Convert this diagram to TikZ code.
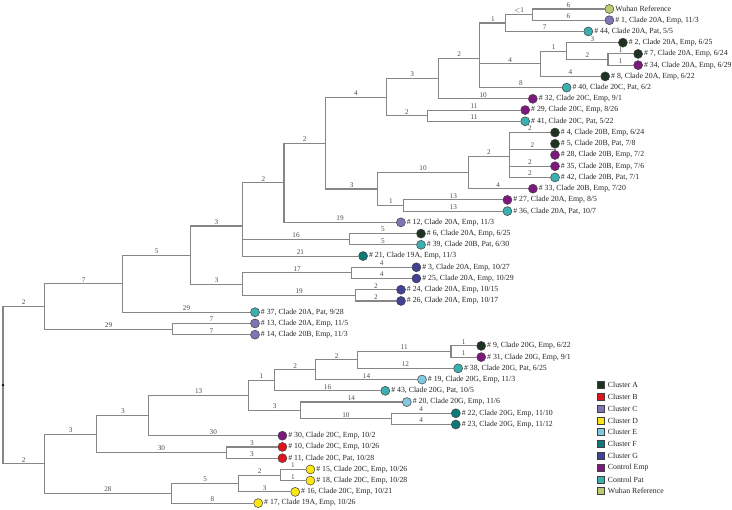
\documentclass[tikz,border=0pt]{standalone}
\usepackage{fontspec}
\setmainfont{Liberation Serif}
\usetikzlibrary{positioning}
\definecolor{clA}{RGB}{30,52,32}
\definecolor{clB}{RGB}{225,20,30}
\definecolor{clC}{RGB}{125,118,180}
\definecolor{clD}{RGB}{250,230,20}
\definecolor{clE}{RGB}{130,200,225}
\definecolor{clF}{RGB}{15,120,120}
\definecolor{clG}{RGB}{65,65,150}
\definecolor{ctEmp}{RGB}{125,25,125}
\definecolor{ctPat}{RGB}{60,175,175}
\definecolor{wuhan}{RGB}{185,205,110}
\begin{document}
\begin{tikzpicture}[x=1pt,y=-1pt,
  br/.style={draw=gray!95,line width=1.1pt},
  tip/.style={circle,draw=black!75,line width=0.5pt,minimum size=9pt,inner sep=0pt},
  lab/.style={font=\fontsize{7.8}{9}\selectfont,text=black!85,inner sep=1pt},
  key/.style={draw=black!75,line width=0.5pt,minimum size=7pt,inner sep=0pt},
  keylab/.style={font=\fontsize{7.8}{9}\selectfont,text=black!85,inner sep=1pt},
  len/.style={font=\fontsize{7.2}{8}\selectfont,text=black!70,inner sep=1pt,above}]
\fill[white] (0,0) rectangle (732,510);
\useasboundingbox (0,0) rectangle (732,510);
% internal nodes
\coordinate (root) at (3,385.1);
\coordinate (A) at (44.4,306.4);
\coordinate (B) at (122.8,283.7);
\coordinate (C) at (190.4,255.1);
\coordinate (D) at (242.6,226.0);
\coordinate (E) at (284.0,182.7);
\coordinate (F) at (325.5,143.1);
\coordinate (G) at (386.1,97.1);
\coordinate (H) at (438.4,78.5);
\coordinate (I) at (479.8,58.1);
\coordinate (J) at (505.9,23.0);
\coordinate (K) at (532.1,14.6);
\coordinate (L) at (540.5,63.8);
\coordinate (M) at (566.6,51.1);
\coordinate (N) at (608.0,59.5);
\coordinate (O) at (427.5,115.7);
\coordinate (P) at (377.8,189.0);
\coordinate (Q) at (468.2,172.6);
\coordinate (R) at (509.6,156.4);
\coordinate (S) at (555.0,149.4);
\coordinate (T) at (403.9,205.5);
\coordinate (U) at (349.4,239.2);
\coordinate (V) at (242.7,284.1);
\coordinate (W) at (351.7,272.9);
\coordinate (X) at (355.6,295.4);
\coordinate (Y) at (172.6,329.1);
\coordinate (Z) at (44.4,463.7);
\coordinate (AA) at (96.7,434.1);
\coordinate (AB) at (148.9,415.6);
\coordinate (AC) at (248.4,395.4);
\coordinate (AD) at (274.5,380.3);
\coordinate (AE) at (315.9,369.8);
\coordinate (AF) at (357.4,359.9);
\coordinate (AG) at (451.0,351.5);
\coordinate (AH) at (300.7,410.5);
\coordinate (AI) at (391.1,418.9);
\coordinate (AJ) at (226.2,452.6);
\coordinate (AK) at (171.4,493.3);
\coordinate (AL) at (238.9,483.5);
\coordinate (AM) at (280.3,475.1);
% tips
\foreach \n/\x/\i/\col/\txt in {
  W/605.4/0/wuhan/{Wuhan Reference},
  1/605.4/1/clC/{\# 1, Clade 20A, Emp, 11/3},
  44/584.3/2/ctPat/{\# 44, Clade 20A, Pat, 5/5},
  2/618.9/3/clA/{\# 2, Clade 20A, Emp, 6/25},
  7/634.1/4/clA/{\# 7, Clade 20A, Emp, 6/24},
  34/634.1/5/ctEmp/{\# 34, Clade 20A, Emp, 6/29},
  8/601.2/6/clA/{\# 8, Clade 20A, Emp, 6/22},
  40/562.6/7/ctPat/{\# 40, Clade 20C, Pat, 6/2},
  32/528.8/8/ctEmp/{\# 32, Clade 20C, Emp, 9/1},
  29/521.2/9/ctEmp/{\# 29, Clade 20C, Emp, 8/26},
  41/521.2/10/ctPat/{\# 41, Clade 20C, Pat, 5/22},
  4/551.0/11/clA/{\# 4, Clade 20B, Emp, 6/24},
  5/551.0/12/clA/{\# 5, Clade 20B, Pat, 7/8},
  28/551.0/13/ctEmp/{\# 28, Clade 20B, Emp, 7/2},
  35/551.0/14/ctEmp/{\# 35, Clade 20B, Emp, 7/6},
  42/551.0/15/ctPat/{\# 42, Clade 20B, Pat, 7/1},
  33/528.9/16/ctEmp/{\# 33, Clade 20B, Emp, 7/20},
  27/503.4/17/ctEmp/{\# 27, Clade 20A, Emp, 8/5},
  36/503.4/18/ctPat/{\# 36, Clade 20A, Pat, 10/7},
  12/396.9/19/clC/{\# 12, Clade 20A, Emp, 11/3},
  6/417.0/20/clA/{\# 6, Clade 20A, Emp, 6/25},
  39/417.0/21/ctPat/{\# 39, Clade 20B, Pat, 6/30},
  21/359.1/22/clF/{\# 21, Clade 19A, Emp, 11/3},
  3/412.4/23/clG/{\# 3, Clade 20A, Emp, 10/27},
  25/412.4/24/clG/{\# 25, Clade 20A, Emp, 10/29},
  24/397.0/25/clG/{\# 24, Clade 20A, Emp, 10/15},
  26/397.0/26/clG/{\# 26, Clade 20A, Emp, 10/17},
  37/251.0/27/ctPat/{\# 37, Clade 20A, Pat, 9/28},
  13/251.0/28/clC/{\# 13, Clade 20A, Emp, 11/5},
  14/251.0/29/clC/{\# 14, Clade 20B, Emp, 11/3},
  9/477.2/30/clA/{\# 9, Clade 20G, Emp, 6/22},
  31/477.2/31/ctEmp/{\# 31, Clade 20G, Emp, 9/1},
  38/454.1/32/ctPat/{\# 38, Clade 20G, Pat, 6/25},
  19/418.0/33/clE/{\# 19, Clade 20G, Emp, 11/3},
  43/381.3/34/ctPat/{\# 43, Clade 20G, Pat, 10/5},
  20/402.8/35/clE/{\# 20, Clade 20G, Emp, 11/6},
  22/451.8/36/clF/{\# 22, Clade 20G, Emp, 11/10},
  23/451.8/37/clF/{\# 23, Clade 20G, Emp, 11/12},
  30/278.4/38/ctEmp/{\# 30, Clade 20C, Emp, 10/2},
  10/278.4/39/clB/{\# 10, Clade 20C, Emp, 10/26},
  11/278.4/40/clB/{\# 11, Clade 20C, Pat, 10/28},
  15/306.4/41/clD/{\# 15, Clade 20C, Emp, 10/26},
  18/306.4/42/clD/{\# 18, Clade 20C, Emp, 10/28},
  16/291.2/43/clD/{\# 16, Clade 20C, Emp, 10/21},
  17/254.2/44/clD/{\# 17, Clade 19A, Emp, 10/26}}
  {\node[tip,fill=\col] (t\n) at ({\x+4},{9+11.23*\i}) {};
   \node[lab,right=0pt of t\n] {\txt};}
% branches
\foreach \pa/\ch/\lb in {root/A/2, root/Z/2, A/B/7, A/Y/29, B/C/5, B/t37/29,
  C/D/3, C/V/3, D/E/2, D/U/16, D/t21/21, E/F/2, E/t12/19, F/G/4, F/P/3,
  G/H/3, G/O/2, H/I/2, H/t32/10, I/J/1, I/L/4, I/t40/8, J/K/$<$1, J/t44/7,
  K/tW/6, K/t1/6, L/M/1, L/t8/4, M/t2/3, M/N/2, N/t7/1, N/t34/1,
  O/t29/11, O/t41/11, P/Q/10, P/T/1, Q/R/2, Q/t33/4,
  R/t4/2, R/S/2, R/t35/2, R/t42/2, T/t27/13, T/t36/13,
  U/t6/5, U/t39/5, V/W/17, V/X/19, W/t3/4, W/t25/4, X/t24/2, X/t26/2,
  Y/t13/7, Y/t14/7,
  Z/AA/3, Z/AK/28, AA/AB/3, AA/AJ/30, AB/AC/13, AB/t30/30,
  AC/AD/1, AC/AH/3, AD/AE/2, AD/t43/16, AE/AF/2, AE/t19/14,
  AF/AG/11, AF/t38/12, AG/t9/1, AG/t31/1, AH/t20/14, AH/AI/10,
  AI/t22/4, AI/t23/4, AJ/t10/3, AJ/t11/3, AK/AL/5, AK/t17/8,
  AL/AM/2, AL/t16/3, AM/t15/1, AM/t18/1}
  \draw[br] (\pa) |- node[len,pos=0.75] {\lb} (\ch);
\draw[br] (t5) -- (t28);
\fill[black] (root) circle (1.3);
% legend
\foreach \col/\txt [count=\k] in {clA/Cluster A, clB/Cluster B, clC/Cluster C,
  clD/Cluster D, clE/Cluster E, clF/Cluster F, clG/Cluster G,
  ctEmp/Control Emp, ctPat/Control Pat, wuhan/Wuhan Reference}
  {\node[key,fill=\col] (k\k) at (601,{385+11.8*(\k-1)}) {};
   \node[keylab,right=2pt of k\k] {\txt};}
\end{tikzpicture}
\end{document}
